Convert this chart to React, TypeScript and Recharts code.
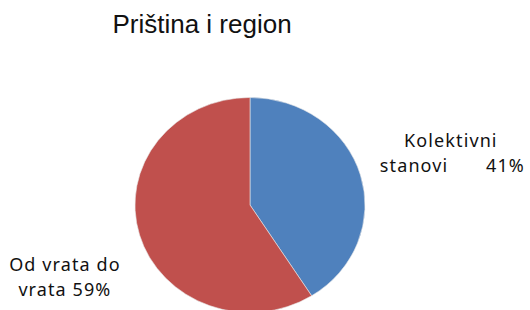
import React from 'react';
import { PieChart, Pie, Cell } from 'recharts';

// Chart data
const categories = ['Kolektivni stanovi', 'Od vrata do vrata'];
const shares = [41, 59];
const sliceColors = ['#4F81BD', '#C0504D'];
const labelLines = [
  ['Kolektivni', 'stanovi', '41%'],
  ['Od vrata do', 'vrata 59%'],
];
const title = 'Priština i region';

const data = categories.map((name, i) => ({ name, value: shares[i] }));

const RAD = Math.PI / 180;
const Y_SQUASH = 0.935; // the original pie is slightly flattened

// Sector drawn as an elliptical wedge
const EllipseSector = (props: any) => {
  const { cx, cy, outerRadius, startAngle, endAngle, fill } = props;
  const rx = outerRadius;
  const ry = outerRadius * Y_SQUASH;
  const sx = cx + rx * Math.cos(-startAngle * RAD);
  const sy = cy + ry * Math.sin(-startAngle * RAD);
  const ex = cx + rx * Math.cos(-endAngle * RAD);
  const ey = cy + ry * Math.sin(-endAngle * RAD);
  const sweep = startAngle > endAngle ? 1 : 0;
  const large = Math.abs(endAngle - startAngle) > 180 ? 1 : 0;
  const d = `M${cx},${cy} L${sx},${sy} A${rx},${ry} 0 ${large} ${sweep} ${ex},${ey} Z`;
  return <path d={d} fill={fill} stroke="#e8e8e8" strokeWidth={0.6} />;
};

const labelFont = { fontFamily: '"Noto Sans", sans-serif', fontSize: 18, letterSpacing: 1.1, fill: '#111' };

const renderLabel = (props: any) => {
  const { cx, cy, midAngle, outerRadius, index } = props;
  const dist = outerRadius + (index === 0 ? 90 : 84);
  const x = cx + dist * Math.cos(-midAngle * RAD);
  const y = cy + dist * Y_SQUASH * Math.sin(-midAngle * RAD) + (index === 0 ? -5 : 18);
  const lines = labelLines[index];
  if (index === 0) {
    return (
      <g>
        <text x={x + 4} y={y} textAnchor="middle" {...labelFont}>{lines[0]}</text>
        <text x={x - 67} y={y + 25} textAnchor="start" {...labelFont}>{lines[1]}</text>
        <text x={x + 78} y={y + 25} textAnchor="end" {...labelFont}>{lines[2]}</text>
      </g>
    );
  }
  return (
    <g>
      <text x={x + 6} y={y - 4} textAnchor="middle" {...labelFont}>{lines[0]}</text>
      <text x={x + 6} y={y + 21} textAnchor="middle" {...labelFont}>{lines[1]}</text>
    </g>
  );
};

export default function App() {
  return (
    <div style={{ position: 'absolute', left: 0, top: 0, width: 530, height: 310, background: '#fff' }}>
      <div
        style={{
          position: 'absolute',
          left: 0,
          top: 9,
          width: 404,
          textAlign: 'center',
          fontFamily: '"Liberation Sans", Arial, sans-serif',
          fontSize: 26,
          lineHeight: '30px',
          color: '#111',
        }}
      >
        {title}
      </div>
      <PieChart
        width={530}
        height={310}
        margin={{ top: 0, right: 0, bottom: 0, left: 0 }}
        style={{ position: 'absolute', left: 0, top: 0 }}
      >
        <Pie
          data={data}
          dataKey="value"
          nameKey="name"
          cx={250}
          cy={205}
          outerRadius={115}
          startAngle={90}
          endAngle={-270}
          shape={EllipseSector}
          label={renderLabel}
          labelLine={false}
          isAnimationActive={false}
        >
          {data.map((d, i) => (
            <Cell key={d.name} fill={sliceColors[i]} />
          ))}
        </Pie>
      </PieChart>
    </div>
  );
}
